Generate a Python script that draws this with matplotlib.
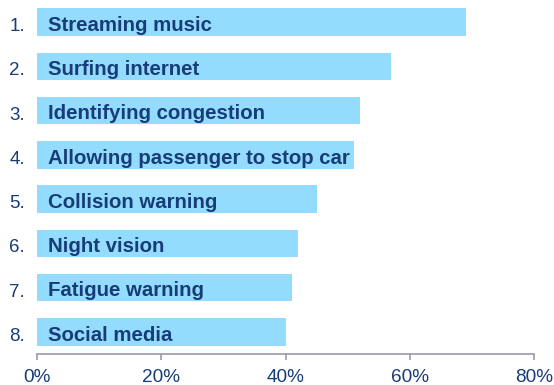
import matplotlib.pyplot as plt
import numpy as np
from matplotlib.ticker import FuncFormatter

plt.rcParams['font.family'] = ['Liberation Sans', 'DejaVu Sans']

features = ['Streaming music', 'Surfing internet', 'Identifying congestion',
            'Allowing passenger to stop car', 'Collision warning', 'Night vision',
            'Fatigue warning', 'Social media']
ranks = ['1.', '2.', '3.', '4.', '5.', '6.', '7.', '8.']
shares = [69, 57, 52, 51, 45, 42, 41, 40]
xticks = [0, 20, 40, 60, 80]

bar_color = '#93dcfd'
text_color = '#173c78'

fig = plt.figure(figsize=(5.54, 3.85), dpi=100)
ax = fig.add_axes([37 / 554, 31 / 385, 497 / 554, 354 / 385])

y = np.arange(len(features))
ax.barh(y, shares, height=0.62, color=bar_color, edgecolor='none')

for i, (name, rank) in enumerate(zip(features, ranks)):
    ax.text(1.8, i + 0.03, name, ha='left', va='center_baseline', fontsize=14.7,
            fontweight='bold', color=text_color)
    ax.text(-1.9, i + 0.1, rank, ha='right', va='center', fontsize=13.5,
            color=text_color, clip_on=False)

ax.set_ylim(len(features) - 0.5, -0.5)
ax.set_xlim(0, 80)
ax.set_xticks(xticks)
ax.xaxis.set_major_formatter(FuncFormatter(lambda v, p: f'{v:.0f}%'))
ax.tick_params(axis='x', colors='#9a9aad', labelcolor=text_color,
               labelsize=13.7, length=4, width=1.2, pad=7)
ax.set_yticks([])

for s in ['top', 'right', 'left']:
    ax.spines[s].set_visible(False)
ax.spines['bottom'].set_color('#9a9aad')
ax.spines['bottom'].set_linewidth(1.2)

fig.savefig('out.png', dpi=100)
